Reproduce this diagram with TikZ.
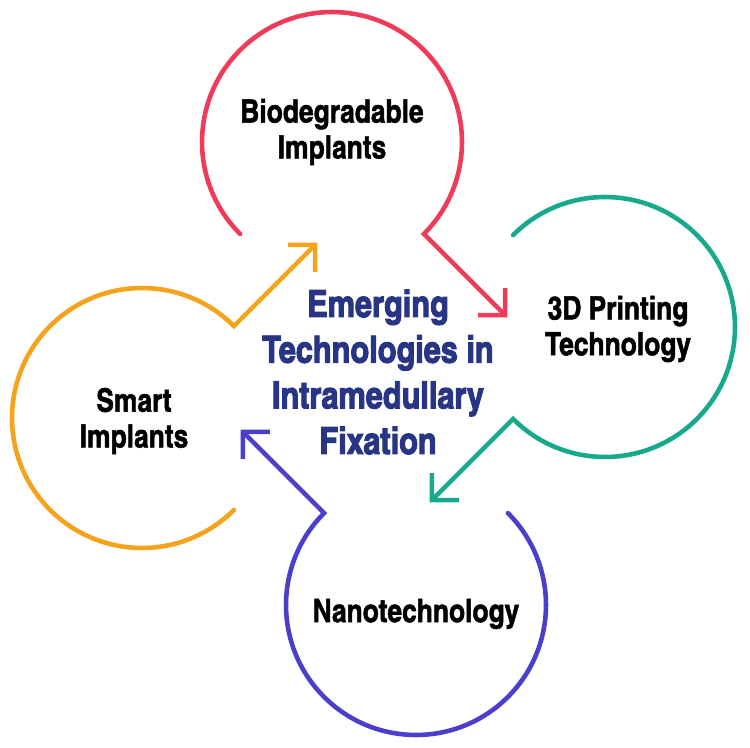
\documentclass[tikz,border=0pt]{standalone}
\usepackage{fontspec}
\setmainfont{texgyreheroscn}[Extension=.otf, UprightFont=*-regular, BoldFont=*-bold]
\newfontfamily\topicfont{texgyreheroscn-bold}[Extension=.otf, FakeBold=1.5]
\newfontfamily\headfont{texgyreheroscn-bold}[Extension=.otf, FakeBold=2.6]
\usetikzlibrary{arrows.meta}
\definecolor{bioRed}{HTML}{EF3A5A}
\definecolor{printTeal}{HTML}{17A98C}
\definecolor{nanoBlue}{HTML}{4B3ECC}
\definecolor{smartOrange}{HTML}{F5A21C}
\definecolor{titleBlue}{HTML}{283585}
\tikzstyle{topic} = [circle, minimum size=5.2cm, inner sep=0pt, outer sep=0pt]
\tikzstyle{caption} = [align=center, inner sep=0pt, font=\topicfont\fontsize{18.3}{20.4}\selectfont]
\tikzstyle{headline} = [align=center, text=titleBlue, font=\headfont\fontsize{21.3}{26}\selectfont]
\tikzstyle{ring} = [line width=2.6pt, line cap=round, -{Straight Barb[length=0.38cm, width=0.76cm]}]

\begin{document}
\begin{tikzpicture}[x=0.02cm, y=0.02cm]
        \useasboundingbox (0,0) rectangle (750,747);
        \node (bio) [topic, label={[caption, yshift=0.2cm]center:Biodegradable\\Implants}] at (332,605) {};
        \node (print) [topic, label={[caption, xshift=0.26cm, yshift=-0.04cm]center:3D Printing\\Technology}] at (605,420) {};
        \node (nano) [topic, label={[caption, yshift=-0.18cm]center:Nanotechnology}] at (416,142) {};
        \node (smart) [topic, label={[caption, xshift=-0.16cm, yshift=-0.06cm]center:Smart\\Implants}] at (142,329) {};
        \node (title) [headline] at (378,375) {Emerging\\Technologies in\\Intramedullary\\Fixation};
        
        % free ends of the arrows
        \path (bio.-45) ++(-45:118) coordinate (bio-tip);
        \path (print.225) ++(225:118) coordinate (print-tip);
        \path (nano.135) ++(135:118) coordinate (nano-tip);
        \path (smart.45) ++(45:118) coordinate (smart-tip);
        
        % rings with their arrows
        \draw [ring, bioRed] (bio.225) arc [start angle=225, end angle=-45, radius=2.6cm] -- (bio-tip);
        \draw [ring, printTeal] (print.135) arc [start angle=135, end angle=-135, radius=2.6cm] -- (print-tip);
        \draw [ring, nanoBlue] (nano.45) arc [start angle=45, end angle=-225, radius=2.6cm] -- (nano-tip);
        \draw [ring, smartOrange] (smart.-45) arc [start angle=-45, end angle=-315, radius=2.6cm] -- (smart-tip);
    \end{tikzpicture}
\end{document}
